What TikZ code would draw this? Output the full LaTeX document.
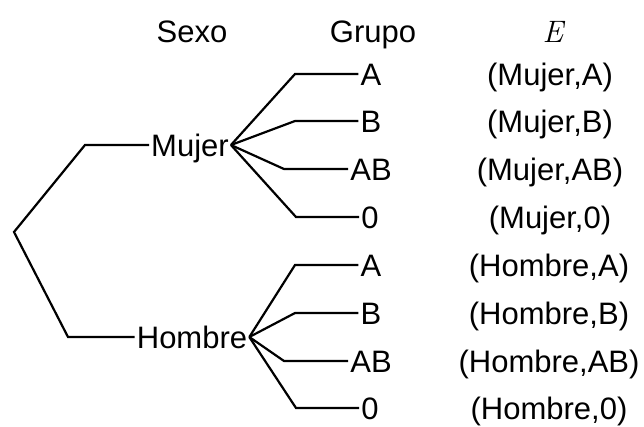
\documentclass[tikz,border=0pt]{standalone}
\usepackage{fontspec}
\setmainfont{Liberation Sans}
\newfontfamily\lmrfam{Latin Modern Roman}
\begin{document}
\begin{tikzpicture}[x=1pt,y=-1pt,
  lbl/.style={font=\fontsize{31}{36}\selectfont, inner sep=2pt, text height=22pt, text depth=0pt},
  br/.style={line width=2.2pt, line join=miter}]
\useasboundingbox (0,0) rectangle (644,426);
% headers
\node[lbl] (hs) at (192,31) {Sexo};
\node[lbl] (hg) at (373,31) {Grupo};
\node[lbl] (he) at (553,31) {\lmrfam\itshape E};
% root and first level
\coordinate (root) at (14,232);
\node[lbl] (mu) at (190,145) {Mujer};
\node[lbl] (ho) at (192,337) {Hombre};
\draw[br] (mu.west) -- (85,145) -- (root) -- (68,337) -- (ho.west);
% Mujer children
\node[lbl] (mA)  at (371,74)  {A};
\node[lbl] (mB)  at (371,121) {B};
\node[lbl] (mAB) at (371,169) {AB};
\node[lbl] (m0)  at (370,217) {0};
\draw[br] (mu.east) -- (295,74)  -- (mA.west);
\draw[br] (mu.east) -- (295,121) -- (mB.west);
\draw[br] (mu.east) -- (284,169) -- (mAB.west);
\draw[br] (mu.east) -- (296,217) -- (m0.west);
% Hombre children
\node[lbl] (hA)  at (371,265) {A};
\node[lbl] (hB)  at (371,313) {B};
\node[lbl] (hAB) at (371,361) {AB};
\node[lbl] (h0)  at (370,408) {0};
\draw[br] (ho.east) -- (295,265) -- (hA.west);
\draw[br] (ho.east) -- (295,313) -- (hB.west);
\draw[br] (ho.east) -- (284,361) -- (hAB.west);
\draw[br] (ho.east) -- (296,408) -- (h0.west);
% outcomes
\node[lbl] (e1) at (550,74)  {(Mujer,A)};
\node[lbl] (e2) at (550,121) {(Mujer,B)};
\node[lbl] (e3) at (550,169) {(Mujer,AB)};
\node[lbl] (e4) at (550,217) {(Mujer,0)};
\node[lbl] (e5) at (549,265) {(Hombre,A)};
\node[lbl] (e6) at (549,313) {(Hombre,B)};
\node[lbl] (e7) at (549,361) {(Hombre,AB)};
\node[lbl] (e8) at (549,408) {(Hombre,0)};
\end{tikzpicture}
\end{document}
